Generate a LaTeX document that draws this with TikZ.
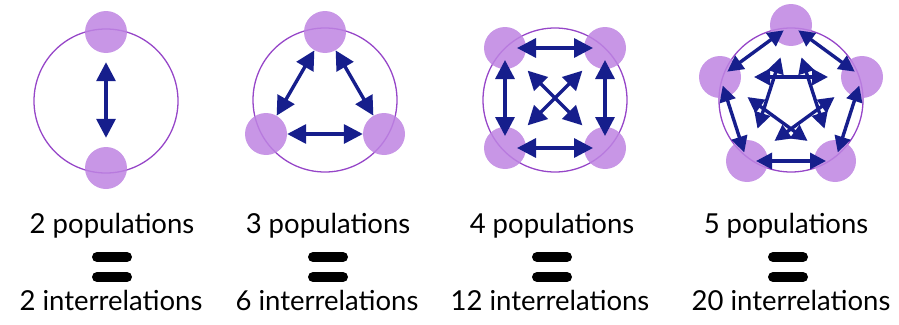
\documentclass[tikz,border=0pt]{standalone}
\usepackage{fontspec}
\setmainfont{Lato}
\usetikzlibrary{arrows.meta,positioning}
\definecolor{popfill}{RGB}{190,132,226}
\definecolor{ringline}{RGB}{150,70,200}
\definecolor{linknavy}{RGB}{22,30,140}

\begin{document}
\begin{tikzpicture}[x=1pt, y=-1pt,
			ring/.style={circle, draw=ringline, line width=1.3pt, minimum size=144pt, inner sep=0pt},
			pop/.style={circle, fill=popfill, fill opacity=0.85, minimum size=42pt, inner sep=0pt},
			link/.style={{Triangle[length=19pt,width=19pt]}-{Triangle[length=19pt,width=19pt]},
				line width=3.4pt, linknavy},
			slink/.style={link, {Triangle[length=16pt,width=16pt]}-{Triangle[length=16pt,width=16pt]}},
			lbl/.style={anchor=base, inner sep=0pt, font=\fontsize{27.5}{32}\selectfont},
			eqbar/.style={line width=10pt, line cap=round, black}]
			
			\useasboundingbox (0,0) rectangle (899,324);
			
			% 2 populations
			\node[ring] (R1) at (106,101) {};
			\node[pop] (A1) at (106,32) {};
			\node[pop] (A2) at (106,168) {};
			\draw[link, shorten >=9pt, shorten <=9pt] (A1) -- (A2);
			
			% 3 populations
			\node[ring] (R2) at (325,100) {};
			\node[pop] (B1) at (325,32) {};
			\node[pop] (B2) at (266,134) {};
			\node[pop] (B3) at (384,134) {};
			\draw[link] (B1) -- (B2);
			\draw[link] (B1) -- (B3);
			\draw[link] (B2) -- (B3);
			
			% 4 populations
			\node[ring] (R3) at (555,100) {};
			\node[pop] (C1) at (505,48) {};
			\node[pop] (C2) at (605,48) {};
			\node[pop] (C3) at (605,148) {};
			\node[pop] (C4) at (505,148) {};
			\draw[link, shorten >=12pt, shorten <=12pt] (C1.center) -- (C2.center);
			\draw[link, shorten >=12pt, shorten <=12pt] (C2.center) -- (C3.center);
			\draw[link, shorten >=12pt, shorten <=12pt] (C3.center) -- (C4.center);
			\draw[link, shorten >=12pt, shorten <=12pt] (C4.center) -- (C1.center);
			\draw[link, shorten >=32pt, shorten <=32pt] (C1.center) -- (C3.center);
			\draw[link, shorten >=32pt, shorten <=32pt] (C2.center) -- (C4.center);
			
			% 5 populations
			\node[ring] (R4) at (791,100) {};
			\node[pop] (D1) at (791,25) {};
			\node[pop] (D2) at (862,77) {};
			\node[pop] (D3) at (835,161) {};
			\node[pop] (D4) at (747,161) {};
			\node[pop] (D5) at (720,77) {};
			\draw[slink, shorten >=9pt, shorten <=9pt] (D1.center) -- (D2.center);
			\draw[slink, shorten >=9pt, shorten <=9pt] (D2.center) -- (D3.center);
			\draw[slink, shorten >=9pt, shorten <=9pt] (D3.center) -- (D4.center);
			\draw[slink, shorten >=9pt, shorten <=9pt] (D4.center) -- (D5.center);
			\draw[slink, shorten >=9pt, shorten <=9pt] (D5.center) -- (D1.center);
			\draw[slink, shorten >=34pt, shorten <=34pt] (D1.center) -- (D3.center);
			\draw[slink, shorten >=34pt, shorten <=34pt] (D1.center) -- (D4.center);
			\draw[slink, shorten >=34pt, shorten <=34pt] (D2.center) -- (D4.center);
			\draw[slink, shorten >=34pt, shorten <=34pt] (D2.center) -- (D5.center);
			\draw[slink, shorten >=34pt, shorten <=34pt] (D3.center) -- (D5.center);
			
			% Labels
			\node[lbl] (P1) at (112,233) {2 populations};
			\node[lbl] (P2) at (328,233) {3 populations};
			\node[lbl] (P3) at (552,233) {4 populations};
			\node[lbl] (P4) at (786,233) {5 populations};
			\node[lbl] (I1) at (111,310) {2 interrelations};
			\node[lbl] (I2) at (327,310) {6 interrelations};
			\node[lbl] (I3) at (550,310) {12 interrelations};
			\node[lbl] (I4) at (791,310) {20 interrelations};
			
			% Equal signs
			\coordinate (E1) at (112,267);
			\coordinate (E2) at (328,267);
			\coordinate (E3) at (552,267);
			\coordinate (E4) at (788,267);
			\foreach \e in {E1,E2,E3,E4}{
				\draw[eqbar] ([shift={(-15,-10)}]\e) -- ([shift={(15,-10)}]\e);
				\draw[eqbar] ([shift={(-15,10)}]\e) -- ([shift={(15,10)}]\e);
			}
		\end{tikzpicture}
\end{document}
